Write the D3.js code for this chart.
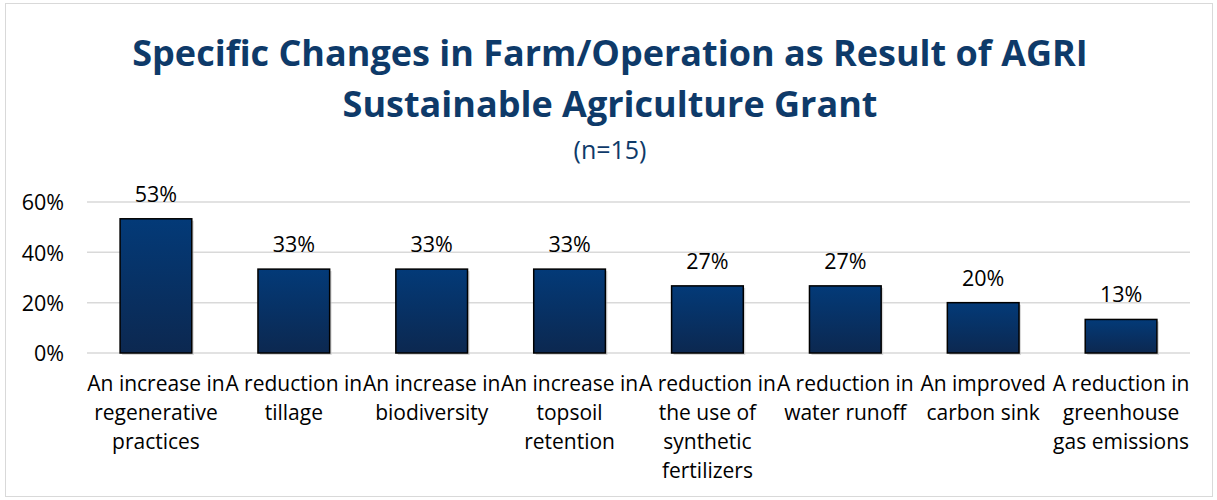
<!DOCTYPE html>
<html><head><meta charset="utf-8">
<script src="https://cdn.jsdelivr.net/npm/d3@7/dist/d3.min.js"></script>
<style>body{margin:0;background:#fff}</style>
</head><body>
<svg id="c" width="1217" height="500"></svg>
<script>
const categories = [
  "An increase in\nregenerative\npractices",
  "A reduction in\ntillage",
  "An increase in\nbiodiversity",
  "An increase in\ntopsoil\nretention",
  "A reduction in\nthe use of\nsynthetic\nfertilizers",
  "A reduction in\nwater runoff",
  "An improved\ncarbon sink",
  "A reduction in\ngreenhouse\ngas emissions"
];
const values = [53.33, 33.33, 33.33, 33.33, 26.67, 26.67, 20, 13.33];
const valueLabels = ["53%", "33%", "33%", "33%", "27%", "27%", "20%", "13%"];
const yTicks = [0, 20, 40, 60];
const titleLines = ["Specific Changes in Farm/Operation as Result of AGRI", "Sustainable Agriculture Grant"];
const subtitle = "(n=15)";

const svg = d3.select("#c");
const font = "'Open Sans', sans-serif";
const navy = "#0e3a69";
svg.append("rect").attr("x",5.5).attr("y",3.5).attr("width",1207).attr("height",493)
  .attr("fill","#fff").attr("stroke","#d9d9d9");

const defs = svg.append("defs");
const g1 = defs.append("linearGradient").attr("id","bg").attr("x1",0).attr("y1",0).attr("x2",0).attr("y2",1);
g1.append("stop").attr("offset","0%").attr("stop-color","#033a78");
g1.append("stop").attr("offset","100%").attr("stop-color","#0c2850");

const x = d3.scaleBand().domain(categories).range([87, 1190]).paddingInner(0.48).paddingOuter(0.24);
const y = d3.scaleLinear().domain([0, 60]).range([353, 202]);

svg.append("g").selectAll("line").data(yTicks).join("line")
  .attr("x1",87).attr("x2",1190).attr("y1",d=>y(d)).attr("y2",d=>y(d))
  .attr("stroke","#d9d9d9").attr("stroke-width",1.5);

const yAxis = d3.axisLeft(y).tickValues(yTicks).tickFormat(d=>d+"%").tickSize(0).tickPadding(10);
const ya = svg.append("g").attr("transform","translate(74,0)").call(yAxis);
ya.select(".domain").remove();
ya.selectAll("text").attr("font-family",font).attr("font-size",21.5).attr("fill","#000").attr("dy","0.36em");

svg.append("g").selectAll("rect").data(values).join("rect")
  .attr("x",(d,i)=>x(categories[i])+2).attr("y",d=>y(d)+2)
  .attr("width",x.bandwidth()).attr("height",d=>y(0)-y(d))
  .attr("fill","#bfbfbf").attr("opacity",0.6);
svg.append("g").selectAll("rect").data(values).join("rect")
  .attr("x",(d,i)=>x(categories[i])).attr("y",d=>y(d))
  .attr("width",x.bandwidth()).attr("height",d=>y(0)-y(d))
  .attr("fill","url(#bg)").attr("stroke","#000").attr("stroke-width",1.5);

svg.append("g").selectAll("text").data(values).join("text")
  .attr("x",(d,i)=>x(categories[i])+x.bandwidth()/2).attr("y",d=>y(d)-17)
  .attr("text-anchor","middle").attr("font-family",font).attr("font-size",21.5).attr("fill","#000")
  .text((d,i)=>valueLabels[i]);

const cl = svg.append("g").selectAll("text").data(categories).join("text")
  .attr("x",d=>x(d)+x.bandwidth()/2).attr("y",391)
  .attr("text-anchor","middle").attr("font-family",font).attr("font-size",21).attr("fill","#000");
cl.each(function(d){
  const t = d3.select(this);
  d.split("\n").forEach((line,i)=>{
    t.append("tspan").attr("x",t.attr("x")).attr("dy",i===0?0:28.9).text(line);
  });
});

svg.append("g").selectAll("text").data(titleLines).join("text")
  .attr("x",610).attr("y",(d,i)=>66+i*51).attr("text-anchor","middle")
  .attr("font-family",font).attr("font-size",36).attr("font-weight","bold").attr("fill",navy)
  .text(d=>d);
svg.append("text").attr("x",610).attr("y",159).attr("text-anchor","middle")
  .attr("font-family",font).attr("font-size",25).attr("fill",navy).text(subtitle);
</script>
</body></html>
